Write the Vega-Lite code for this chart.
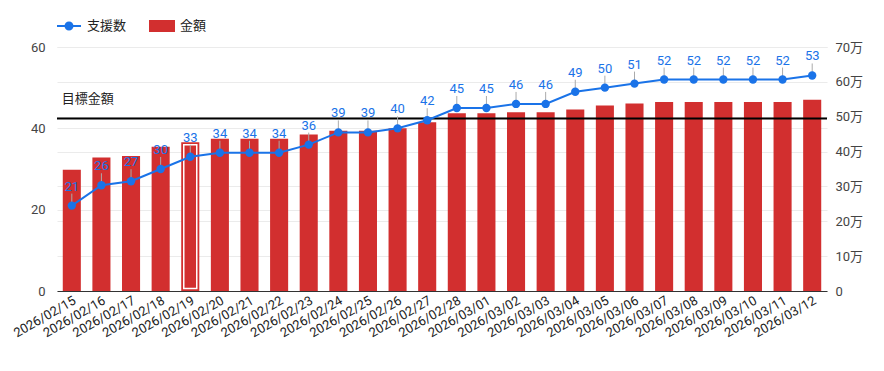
{
  "$schema": "https://vega.github.io/schema/vega-lite/v6.json",
  "width": 770,
  "height": 244,
  "autosize": "none",
  "padding": {"left": 57, "top": 47, "right": 57, "bottom": 80},
  "background": "white",
  "config": {
    "font": "Roboto, 'Noto Sans CJK JP', sans-serif",
    "view": {"stroke": null},
    "axis": {"labelFont": "Roboto, 'Noto Sans CJK JP', sans-serif"}
  },
  "datasets": {
    "main": [
      {"date": "2026/02/15", "count": 21, "amount": 348000, "hl": false},
      {"date": "2026/02/16", "count": 26, "amount": 383000, "hl": false},
      {"date": "2026/02/17", "count": 27, "amount": 387000, "hl": false},
      {"date": "2026/02/18", "count": 30, "amount": 414000, "hl": false},
      {"date": "2026/02/19", "count": 33, "amount": 427000, "hl": true},
      {"date": "2026/02/20", "count": 34, "amount": 437000, "hl": false},
      {"date": "2026/02/21", "count": 34, "amount": 437000, "hl": false},
      {"date": "2026/02/22", "count": 34, "amount": 437000, "hl": false},
      {"date": "2026/02/23", "count": 36, "amount": 449000, "hl": false},
      {"date": "2026/02/24", "count": 39, "amount": 460000, "hl": false},
      {"date": "2026/02/25", "count": 39, "amount": 460000, "hl": false},
      {"date": "2026/02/26", "count": 40, "amount": 467000, "hl": false},
      {"date": "2026/02/27", "count": 42, "amount": 484000, "hl": false},
      {"date": "2026/02/28", "count": 45, "amount": 510000, "hl": false},
      {"date": "2026/03/01", "count": 45, "amount": 510000, "hl": false},
      {"date": "2026/03/02", "count": 46, "amount": 513000, "hl": false},
      {"date": "2026/03/03", "count": 46, "amount": 513000, "hl": false},
      {"date": "2026/03/04", "count": 49, "amount": 521000, "hl": false},
      {"date": "2026/03/05", "count": 50, "amount": 532000, "hl": false},
      {"date": "2026/03/06", "count": 51, "amount": 538000, "hl": false},
      {"date": "2026/03/07", "count": 52, "amount": 542000, "hl": false},
      {"date": "2026/03/08", "count": 52, "amount": 542000, "hl": false},
      {"date": "2026/03/09", "count": 52, "amount": 542000, "hl": false},
      {"date": "2026/03/10", "count": 52, "amount": 542000, "hl": false},
      {"date": "2026/03/11", "count": 52, "amount": 542000, "hl": false},
      {"date": "2026/03/12", "count": 53, "amount": 549000, "hl": false}
    ],
    "target": [{"amount": 495000, "label": "目標金額", "date": "2026/02/15"}],
    "legend": [{"s": "支援数"}, {"s": "金額"}]
  },
  "layer": [
    {
      "encoding": {
        "y": {
          "field": "amount", "type": "quantitative",
          "scale": {"domain": [0, 700000], "nice": false},
          "axis": {
            "orient": "right", "title": null,
            "values": [0, 100000, 200000, 300000, 400000, 500000, 600000, 700000],
            "labelExpr": "datum.value == 0 ? '0' : (datum.value / 10000) + '万'",
            "grid": true, "gridColor": "#ebebeb", "domain": false, "ticks": false,
            "labelOverlap": false, "labelBound": false, "labelFlush": false,
            "labelPadding": 8, "labelFontSize": 13, "labelColor": "#444"
          }
        }
      },
      "layer": [
        {
          "data": {"name": "main"},
          "mark": {"type": "bar", "color": "#d22f2f"},
          "encoding": {
            "x": {
              "field": "date", "type": "ordinal", "sort": null,
              "scale": {"paddingInner": 0.39, "paddingOuter": 0.195},
              "axis": {
                "title": null, "labelAngle": -30, "labelFontSize": 13, "labelColor": "#222",
                "ticks": false, "domain": true, "domainColor": "#333", "labelPadding": 3,
                "labelOverlap": false
              }
            }
          }
        },
        {
          "data": {"name": "main"},
          "transform": [{"filter": "datum.hl"}],
          "mark": {"type": "bar", "fill": null, "fillOpacity": 0, "stroke": "white", "strokeWidth": 1.5, "size": 13, "yOffset": 2.5, "y2Offset": -2.5},
          "encoding": {
            "x": {"field": "date", "type": "ordinal", "sort": null},
            "y2": {"datum": 0}
          }
        },
        {
          "data": {"name": "target"},
          "mark": {"type": "rule", "color": "#000", "strokeWidth": 2}
        },
        {
          "data": {"name": "target"},
          "mark": {"type": "text", "align": "left", "baseline": "middle", "dx": -10, "dy": -19, "fontSize": 13, "color": "#222"},
          "encoding": {
            "x": {"field": "date", "type": "ordinal", "sort": null},
            "text": {"field": "label"}
          }
        }
      ]
    },
    {
      "data": {"name": "main"},
      "encoding": {
        "x": {"field": "date", "type": "ordinal", "sort": null},
        "y": {
          "field": "count", "type": "quantitative",
          "scale": {"domain": [0, 60], "nice": false},
          "axis": {
            "orient": "left", "title": null, "values": [0, 20, 40, 60],
            "grid": true, "gridColor": "#ebebeb", "domain": false, "ticks": false,
            "labelOverlap": false,
            "labelPadding": 12, "labelFontSize": 13, "labelColor": "#444"
          }
        }
      },
      "layer": [
        {
          "mark": {"type": "rule", "color": "#aaa", "strokeWidth": 1, "yOffset": -3, "y2Offset": -12},
          "encoding": {"y2": {"field": "count"}}
        },
        {
          "mark": {"type": "line", "color": "#1a73e8", "strokeWidth": 2, "point": {"filled": true, "size": 70, "color": "#1a73e8", "opacity": 1}}
        },
        {
          "mark": {"type": "text", "baseline": "middle", "dy": -19, "fontSize": 13, "color": "#1a73e8"},
          "encoding": {"text": {"field": "count"}}
        }
      ]
    },
    {
      "data": {"name": "legend"},
      "transform": [{"filter": "false"}],
      "mark": {"type": "point", "filled": true, "opacity": 1},
      "encoding": {
        "color": {
          "field": "s", "type": "nominal",
          "scale": {"domain": ["支援数", "金額"], "range": ["#1a73e8", "#d22f2f"]},
          "legend": {
            "title": null, "orient": "none", "legendX": 0, "legendY": -33,
            "direction": "horizontal", "symbolSize": 576, "symbolOpacity": 1,
            "symbolStrokeWidth": 0, "labelFontSize": 13, "labelColor": "#222",
            "labelOffset": 6, "columnPadding": 22
          }
        },
        "shape": {
          "field": "s", "type": "nominal",
          "scale": {
            "domain": ["支援数", "金額"],
            "range": [
              "M-1,-0.08 L1,-0.08 L1,0.08 L-1,0.08 Z M0.375,0 A0.375,0.375 0 1,1 -0.375,0 A0.375,0.375 0 1,1 0.375,0 Z",
              "M-1.083,-0.5 L1.083,-0.5 L1.083,0.5 L-1.083,0.5 Z"
            ]
          }
        }
      }
    }
  ],
  "resolve": {"scale": {"y": "independent"}}
}
